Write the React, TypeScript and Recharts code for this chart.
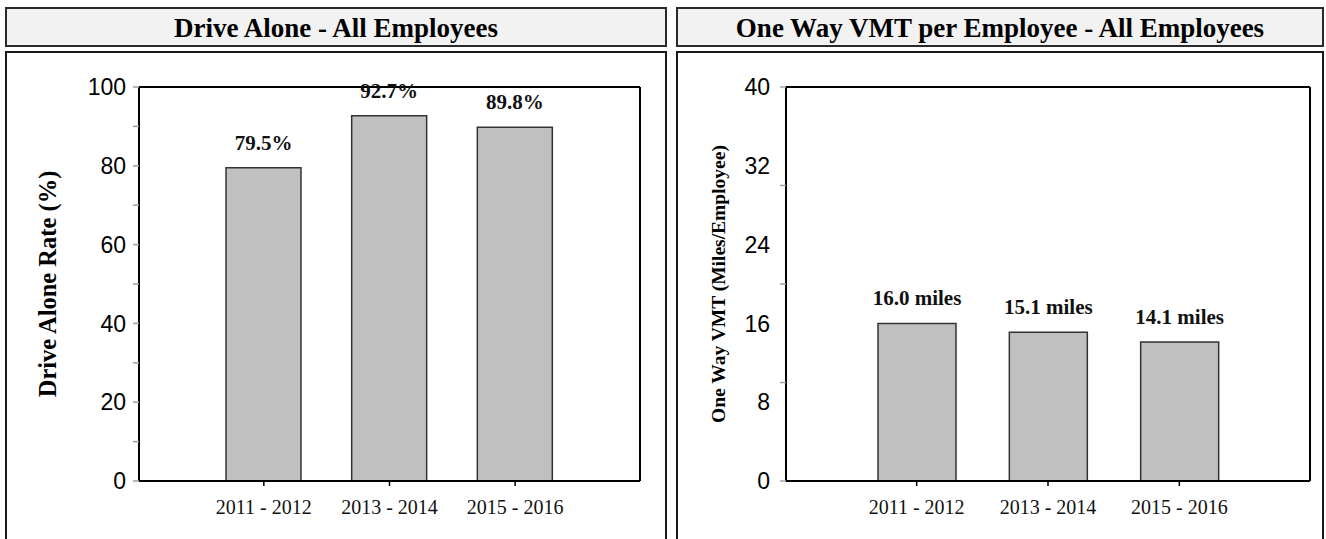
import { Bar, BarChart, CartesianGrid, LabelList, XAxis, YAxis } from 'recharts'

const periods = ['2011 - 2012', '2013 - 2014', '2015 - 2016']
const driveAloneRate = [79.5, 92.7, 89.8]
const vmtPerEmployee = [16.0, 15.1, 14.1]

const rateTicks = [0, 10, 20, 30, 40, 50, 60, 70, 80, 90, 100]
const vmtTicks = [0, 8, 10, 16, 20, 24, 30, 32, 40]

const serif = '"Liberation Serif", "Times New Roman", serif'
const sans = '"Liberation Sans", Arial, sans-serif'

const rateData = periods.map((period, i) => ({ period, value: driveAloneRate[i] }))
const vmtData = periods.map((period, i) => ({ period, value: vmtPerEmployee[i] }))

function makeYTick(labelEvery: number, lineEvery: number, gap: number) {
  return (props: any) => {
    const { x, y, payload } = props
    const v = payload.value
    return (
      <g>
        {v % lineEvery === 0 && (
          <line x1={x + gap} x2={x + gap + 6} y1={y} y2={y} stroke="#a0a0a0" strokeWidth={1.5} />
        )}
        {v % labelEvery === 0 && (
          <text x={x} y={y} dy="0.36em" textAnchor="end" fontFamily={sans} fontSize={23} fill="#000">
            {v}
          </text>
        )}
      </g>
    )
  }
}

function frameTop(props: any) {
  return [props.offset.top]
}

function frameRight(props: any) {
  return [props.offset.left + props.offset.width]
}

interface PanelProps {
  left: number
  width: number
  title: string
  data: { period: string; value: number }[]
  axisLabel: string
  axisLabelSize: number
  labelX: number
  max: number
  ticks: number[]
  labelEvery: number
  lineEvery: number
  tickGap: number
  plotLeft: number
  plotRight: number
  pad: number
  barSize: number
  unit: (v: number) => string
}

function Panel(p: PanelProps) {
  return (
    <>
      <div
        style={{
          position: 'absolute',
          left: p.left,
          top: 7,
          width: p.width - 4,
          height: 36,
          border: '2px solid #2a2a2a',
          background: '#f2f2f2',
          fontFamily: serif,
          fontWeight: 'bold',
          fontSize: 27,
          lineHeight: '38px',
          textAlign: 'center',
          whiteSpace: 'nowrap'
        }}
      >
        {p.title}
      </div>
      <div
        style={{
          position: 'absolute',
          left: p.left,
          top: 51,
          width: p.width - 4,
          height: 520,
          border: '2px solid #1a1a1a'
        }}
      />
      <div style={{ position: 'absolute', left: p.left, top: 0 }}>
        <BarChart
          width={p.width}
          height={539}
          data={p.data}
          margin={{ top: 87, right: p.width - p.plotRight, left: 0, bottom: 28 }}
        >
          <CartesianGrid
            stroke="#000"
            strokeWidth={2}
            horizontalCoordinatesGenerator={frameTop}
            verticalCoordinatesGenerator={frameRight}
          />
          <XAxis
            dataKey="period"
            height={30}
            padding={{ left: p.pad, right: p.pad }}
            axisLine={{ stroke: '#000', strokeWidth: 2 }}
            tickLine={{ stroke: '#000', strokeWidth: 1.5 }}
            tickSize={5}
            tickMargin={14}
            tick={{ fontFamily: serif, fontSize: 20, fill: '#111' }}
          />
          <YAxis
            width={p.plotLeft}
            domain={[0, p.max]}
            ticks={p.ticks}
            interval={0}
            axisLine={{ stroke: '#000', strokeWidth: 2 }}
            tickLine={false}
            tickSize={6}
            tickMargin={p.tickGap}
            tick={makeYTick(p.labelEvery, p.lineEvery, p.tickGap)}
            label={{
              content: (lp: any) => {
                const vb = lp.viewBox
                const cx = vb.x + p.labelX
                const cy = vb.y + vb.height / 2
                return (
                  <text
                    x={cx}
                    y={cy}
                    transform={`rotate(-90 ${cx} ${cy})`}
                    textAnchor="middle"
                    dominantBaseline="central"
                    fontFamily={serif}
                    fontWeight="bold"
                    fontSize={p.axisLabelSize}
                    fill="#000"
                  >
                    {p.axisLabel}
                  </text>
                )
              }
            }}
          />
          <Bar
            dataKey="value"
            barSize={p.barSize}
            fill="#c0c0c0"
            stroke="#333"
            strokeWidth={1.5}
            isAnimationActive={false}
          >
            <LabelList
              dataKey="value"
              position="top"
              offset={18}
              formatter={(v: any) => p.unit(Number(v))}
              style={{ fontFamily: serif, fontWeight: 'bold', fontSize: 21, fill: '#111' }}
            />
          </Bar>
        </BarChart>
      </div>
    </>
  )
}

export default function App() {
  return (
    <div
      style={{
        position: 'absolute',
        left: 0,
        top: 0,
        width: 1326,
        height: 539,
        overflow: 'hidden',
        background: '#fff'
      }}
    >
      <Panel
        left={5}
        width={662}
        title="Drive Alone - All Employees"
        data={rateData}
        axisLabel="Drive Alone Rate (%)"
        axisLabelSize={24.5}
        labelX={42}
        max={100}
        ticks={rateTicks}
        labelEvery={20}
        lineEvery={10}
        tickGap={7}
        plotLeft={134}
        plotRight={635}
        pad={62}
        barSize={75}
        unit={(v) => `${v.toFixed(1)}%`}
      />
      <Panel
        left={676}
        width={648}
        title="One Way VMT per Employee - All Employees"
        data={vmtData}
        axisLabel="One Way VMT (Miles/Employee)"
        axisLabelSize={19.5}
        labelX={42}
        max={40}
        ticks={vmtTicks}
        labelEvery={8}
        lineEvery={10}
        tickGap={10}
        plotLeft={110}
        plotRight={634}
        pad={65}
        barSize={78}
        unit={(v) => `${v.toFixed(1)} miles`}
      />
    </div>
  )
}
